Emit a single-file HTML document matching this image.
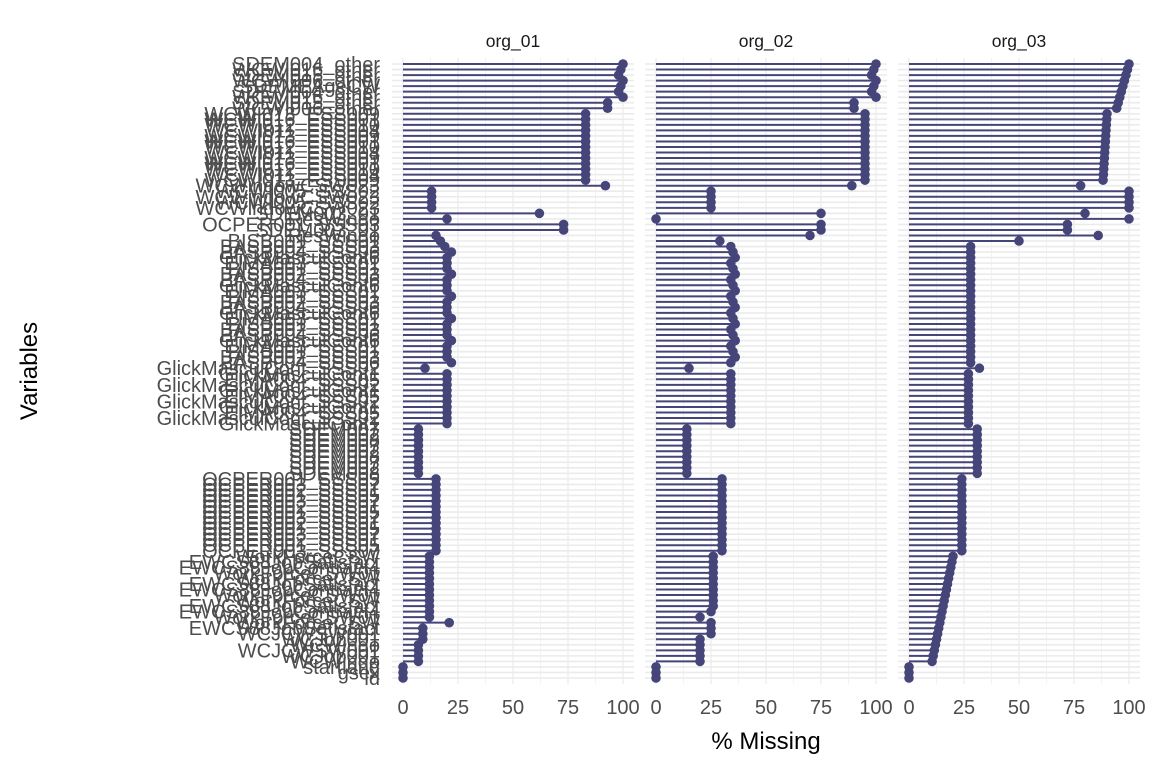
<!DOCTYPE html>
<html><head><meta charset="utf-8"><style>
body{margin:0;background:#fff}
svg{display:block}
text{font-family:"Liberation Sans",Arial,sans-serif}
</style></head><body>
<svg id="s" width="1152" height="768" xmlns="http://www.w3.org/2000/svg"></svg>
<script>
const s=document.getElementById('s');let h='';
const N=112,y0=64,dy=(678-64)/(N-1);
const Y=i=>y0+i*dy;
function seg(arr){const v=[];arr.forEach(([a,b,f])=>{for(let i=a;i<=b;i++)v[i]=typeof f==='function'?f(i-a,b-a):f;});return v;}
const p1=seg([[0,6,i=>100-(i%3)],[7,8,93],[9,21,83],[22,22,92],[23,26,13],[27,27,62],[28,28,20],[29,30,73],[31,33,i=>15+i*2],[34,54,i=>20+(i%4==0?2:0)],[55,55,10],[56,65,20],[66,74,7],[75,88,15],[89,100,12],[101,101,21],[102,104,9],[105,108,7],[109,111,0]]);
const p2=seg([[0,6,i=>100-(i%3)],[7,8,90],[9,21,95],[22,22,89],[23,26,25],[27,27,75],[28,28,0],[29,30,75],[31,31,70],[32,32,29],[33,54,i=>34+(i%3)],[55,55,15],[56,65,34],[66,74,14],[75,88,30],[89,98,26],[99,99,25],[100,100,20],[101,103,25],[104,108,20],[109,111,0]]);
const p3=seg([[0,8,i=>100-i*0.7],[9,21,i=>90-i*0.15],[22,22,78],[23,26,100],[27,27,80],[28,28,100],[29,30,72],[31,31,86],[32,32,50],[33,54,28],[55,55,32],[56,65,27],[66,74,31],[75,88,24],[89,108,i=>20-i*0.5],[109,111,0]]);
const panels=[[392,403,p1,'org_01'],[645,656,p2,'org_02'],[898,909,p3,'org_03']];
const sc=2.2;
panels.forEach(([px,x0,v,t])=>{
  for(let k=0;k<=8;k++){const x=x0+k*12.5*sc;h+=`<line x1="${x}" y1="58" x2="${x}" y2="684" stroke="#ebebeb" stroke-width="${k%2?0.6:1.2}"/>`;}
  for(let i=0;i<N;i++)h+=`<line x1="${px}" y1="${Y(i)}" x2="${px+242}" y2="${Y(i)}" stroke="#ebebeb" stroke-width="1.6"/>`;
  h+=`<text x="${px+121}" y="47" font-size="17.5" text-anchor="middle" fill="#1a1a1a">${t}</text>`;
  for(let i=0;i<N;i++){const x=x0+v[i]*sc,y=Y(i);h+=`<line x1="${x0}" y1="${y}" x2="${x}" y2="${y}" stroke="#46457a" stroke-width="2"/><circle cx="${x}" cy="${y}" r="4.8" fill="#46457a"/>`;}
  [0,25,50,75,100].forEach(n=>h+=`<text x="${x0+n*sc}" y="714" font-size="20" text-anchor="middle" fill="#4d4d4d">${n}</text>`);
});
const L=[[0,8,['SDEM004_other','WCWI016_other','SDEM015_other','WCWI006_other','SDEMEAgeCW']],[9,21,['WCWI013_ESS009','WCWI016_ESS001','WCWI012_ESS010','WCWI011_ESS004']],[22,26,['WCWindowCSW023','WCWI005_SSS02']],[27,31,['SDEM003_01','ResWindo','OCPER001_SSS03']],[32,54,['BISB001_SSS01','BASB002_SSS03','BASB004_SSS06','GlickMasculCont6','EIMA003_SSS01']],[55,65,['GlickMasculCont_SSS02','GlickMasculCont1','EIMA004_SSS05']],[66,74,['SDEM007','SDEM002','SDEM008']],[75,88,['OCPER001_SSS05','OCPER003_SSS07','OCPER002_SSS01']],[89,102,['WorkForceCSW','EWCS88JobSatisfact','EWCS88JobContract4','WorkForceCSW01']],[103,108,['WCJCWSW001','WCJob001','WCWindo']],[109,109,['startlang']],[110,110,['gsex']],[111,111,['id']]];
L.forEach(([a,b,names])=>{for(let i=a;i<=b;i++){const n=names[(i-a)%names.length];h+=`<text x="380" y="${Y(i)+7}" font-size="20" text-anchor="end" fill="#4d4d4d">${n}</text>`;}});
h+=`<text x="766" y="749" font-size="24" text-anchor="middle" fill="#000">% Missing</text>`;
h+=`<text transform="translate(37,371) rotate(-90)" font-size="24" text-anchor="middle" fill="#000">Variables</text>`;
s.innerHTML=h;
</script>
</body></html>
